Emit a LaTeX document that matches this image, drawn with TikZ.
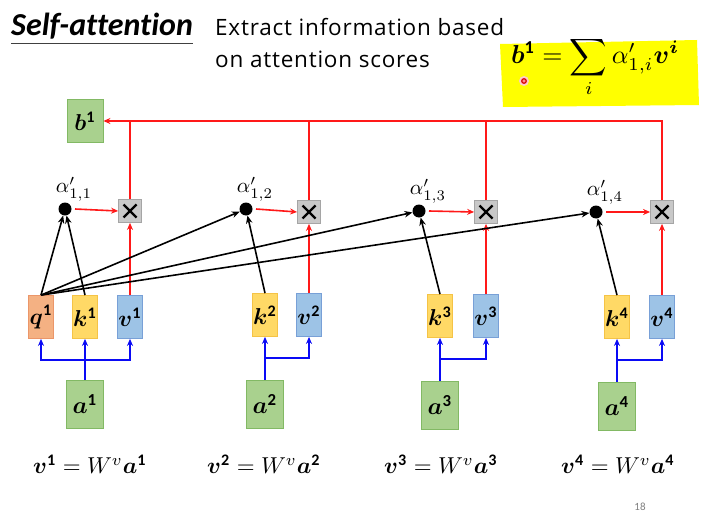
\documentclass[tikz,border=0pt]{standalone}
\usepackage{graphicx}
\usepackage{amsmath,bm}
\usepackage{fontspec}
\setmainfont[Ligatures=CommonOff]{Carlito}
\newfontfamily\subfont[LetterSpace=3.5]{Open Sans}
\usetikzlibrary{arrows.meta,positioning}
\newcommand{\mth}[2]{\scalebox{#1}{$#2$}}
\definecolor{agreen}{RGB}{169,209,142}
\definecolor{agreenD}{RGB}{130,185,100}
\definecolor{qorange}{RGB}{244,177,131}
\definecolor{qorangeD}{RGB}{235,150,105}
\definecolor{kyellow}{RGB}{255,217,102}
\definecolor{kyellowD}{RGB}{245,195,70}
\definecolor{vblue}{RGB}{157,195,230}
\definecolor{vblueD}{RGB}{120,160,215}
\definecolor{xgray}{RGB}{200,200,200}
\definecolor{xgrayD}{RGB}{165,165,165}
\definecolor{rline}{RGB}{255,25,25}
\definecolor{bline}{RGB}{10,10,245}
\definecolor{hlyellow}{RGB}{255,255,0}
\begin{document}
\begin{tikzpicture}[x=1pt,y=-1pt,
  box/.style={draw, line width=0.8pt, inner sep=0pt},
  abox/.style={box, fill=agreen, draw=agreenD, minimum width=37pt, minimum height=48pt},
  bbox/.style={box, fill=agreen, draw=agreenD, minimum width=36pt, minimum height=43pt},
  qbox/.style={box, fill=qorange, draw=qorangeD, minimum width=25pt, minimum height=43pt},
  kbox/.style={box, fill=kyellow, draw=kyellowD, minimum width=25pt, minimum height=43pt},
  vbox/.style={box, fill=vblue, draw=vblueD, minimum width=25pt, minimum height=43pt},
  xbox/.style={draw=xgrayD, fill=xgray, line width=0.8pt, minimum size=23pt, inner sep=0pt,
    path picture={\draw[draw=black, line width=2.3pt]
      ([shift={(-6.5pt,-6.5pt)}]path picture bounding box.center) -- ([shift={(6.5pt,6.5pt)}]path picture bounding box.center)
      ([shift={(-6.5pt,6.5pt)}]path picture bounding box.center) -- ([shift={(6.5pt,-6.5pt)}]path picture bounding box.center);}},
  dot/.style={circle, fill=black, minimum size=13pt, inner sep=0pt},
  alab/.style={inner sep=0pt},
  eq/.style={inner sep=0pt},
  redl/.style={draw=rline, line width=1.6pt},
  redar/.style={redl, -{Stealth[length=7pt,width=6pt]}},
  blkar/.style={draw=black, line width=1.6pt, -{Stealth[length=8pt,width=6.5pt]}},
  bluel/.style={draw=bline, line width=2.4pt},
  bluear/.style={bluel, -{Stealth[length=7pt,width=6pt]}}
]
\useasboundingbox (0,0) rectangle (702,519);
\fill[white] (0,0) rectangle (702,519);

% title and header text
\node[anchor=base west, inner sep=0pt, font=\fontsize{32}{34}\selectfont\bfseries\itshape] (title) at (11,36) {Self-attention};
\draw[line width=0.9pt, black!75] (title.south west |- 0,43) -- (title.south east |- 0,43);
\node[anchor=base west, inner sep=0pt, font=\subfont\fontsize{22.5}{25}\selectfont] (sub) at (215,36)
  {Extract information based};
\node[anchor=base west, inner sep=0pt, font=\subfont\fontsize{22.5}{25}\selectfont] (sub2) at (215,68)
  {on attention scores};

% highlighted formula
\fill[hlyellow] (500,44) -- (697,40) -- (699,105) -- (503,107) -- cycle;
\node[inner sep=0pt, anchor=base west] (form) at (511,64)
  {\mth{2.6}{\displaystyle \bm{b}^{\mathbf{1}} = \sum_{i} \alpha'_{1,i}\bm{v}^{\bm{i}}}};
\fill[red!20] (524,81) circle (5pt);
\draw[red!85!black, line width=1.2pt, fill=red!45] (524,81) circle (2.3pt);

% nodes
\node[bbox] (b1) at (85,121) {\mth{2.3}{\bm{b}^{\mathbf{1}}}};

\node[qbox] (q1) at (41,317) {\mth{2.3}{\bm{q}^{\mathbf{1}}}};
\node[kbox] (k1) at (85,317) {\mth{2.3}{\bm{k}^{\mathbf{1}}}};
\node[vbox] (v1) at (130,317) {\mth{2.3}{\bm{v}^{\mathbf{1}}}};
\node[kbox] (k2) at (265,315) {\mth{2.3}{\bm{k}^{\mathbf{2}}}};
\node[vbox] (v2) at (309,315) {\mth{2.3}{\bm{v}^{\mathbf{2}}}};
\node[kbox] (k3) at (440,316) {\mth{2.3}{\bm{k}^{\mathbf{3}}}};
\node[vbox] (v3) at (486,316) {\mth{2.3}{\bm{v}^{\mathbf{3}}}};
\node[kbox] (k4) at (617,317) {\mth{2.3}{\bm{k}^{\mathbf{4}}}};
\node[vbox] (v4) at (662,317) {\mth{2.3}{\bm{v}^{\mathbf{4}}}};

\node[abox] (a1) at (85,404) {\mth{2.4}{\bm{a}^{\mathbf{1}}}};
\node[abox] (a2) at (265,404) {\mth{2.4}{\bm{a}^{\mathbf{2}}}};
\node[abox] (a3) at (440,405) {\mth{2.4}{\bm{a}^{\mathbf{3}}}};
\node[abox] (a4) at (617,406) {\mth{2.4}{\bm{a}^{\mathbf{4}}}};

\node[xbox] (x1) at (130,211) {};
\node[xbox] (x2) at (309,212) {};
\node[xbox] (x3) at (486,212) {};
\node[xbox] (x4) at (662,212) {};

\node[dot] (d1) at (65,209) {};
\node[dot] (d2) at (246,209) {};
\node[dot] (d3) at (419,211) {};
\node[dot] (d4) at (596,212) {};

\node[alab] (l1) at (74,189) {\mth{2.1}{\alpha'_{1,1}}};
\node[alab] (l2) at (255,189) {\mth{2.1}{\alpha'_{1,2}}};
\node[alab] (l3) at (428,191) {\mth{2.1}{\alpha'_{1,3}}};
\node[alab] (l4) at (605,192) {\mth{2.1}{\alpha'_{1,4}}};

% bottom equations
\node[eq] (e1) at (90,464) {\mth{2.3}{\bm{v}^{\mathbf{1}} = W^{v}\bm{a}^{\mathbf{1}}}};
\node[eq] (e2) at (264,464) {\mth{2.3}{\bm{v}^{\mathbf{2}} = W^{v}\bm{a}^{\mathbf{2}}}};
\node[eq] (e3) at (441,464) {\mth{2.3}{\bm{v}^{\mathbf{3}} = W^{v}\bm{a}^{\mathbf{3}}}};
\node[eq] (e4) at (618,464) {\mth{2.3}{\bm{v}^{\mathbf{4}} = W^{v}\bm{a}^{\mathbf{4}}}};
\node[font=\fontsize{11}{12}\selectfont, text=black!50, inner sep=0pt] (pg) at (640,507) {18};

% red connectors
\draw[redar] (x4.north) |- (b1.east);
\foreach \i in {1,2,3} \draw[redl] (x\i.north) -- (x\i.north |- b1.east);
\foreach \i in {1,2,3,4} {
  \draw[redar] (d\i) ++(10pt,0) -- (x\i.west);
  \draw[redar] (v\i.north) -- (x\i.south);
}

% black connectors
\foreach \i in {1,2,3,4} {
  \draw[blkar] (q1.north) -- (d\i);
  \draw[blkar] (k\i.north) -- (d\i);
}

% blue connectors
\coordinate (j1) at (85,360);
\draw[bluel] (a1.north) -- (j1);
\draw[bluear] (j1) -| (q1.south);
\draw[bluear] (j1) -| (v1.south);
\draw[bluear] (j1) -- (k1.south);
\foreach \i/\y in {2/358,3/359,4/360} {
  \draw[bluear] (a\i.north) -- (k\i.south);
  \draw[bluear] (a\i.north |- 0,\y) -| (v\i.south);
}
\end{tikzpicture}
\end{document}
